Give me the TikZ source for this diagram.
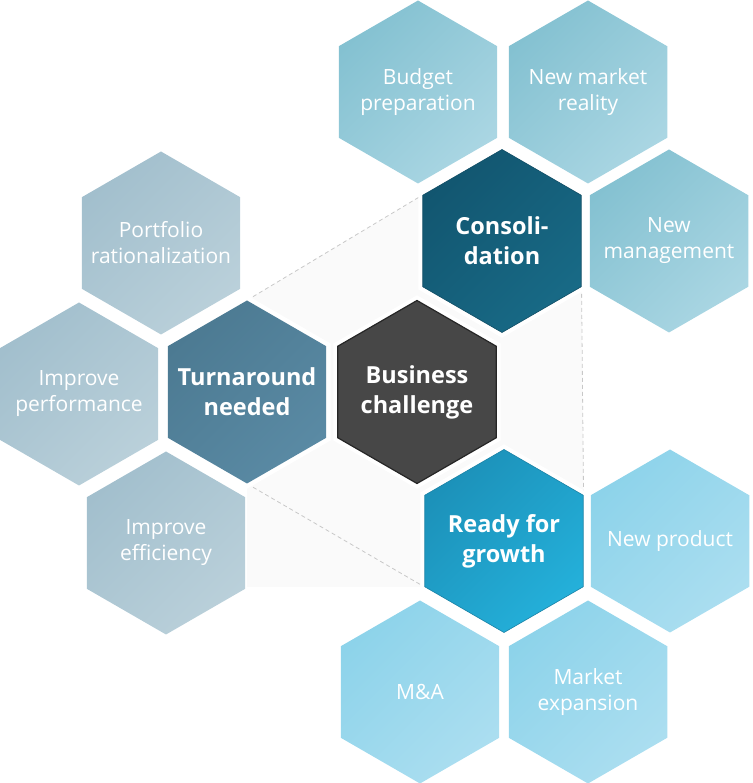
\documentclass[tikz,border=0pt]{standalone}
\usepackage{fontspec}
\setmainfont{Open Sans}
\usepackage{tikz}
\usetikzlibrary{shapes.geometric}
\usetikzlibrary{backgrounds}
\usetikzlibrary{positioning}
\usetikzlibrary{calc}
\definecolor{leftdark}{HTML}{A2BFCD}
\definecolor{leftlight}{HTML}{BAD0DA}
\definecolor{topdark}{HTML}{84C1D1}
\definecolor{toplight}{HTML}{AAD6E3}
\definecolor{botdark}{HTML}{8DD3EA}
\definecolor{botlight}{HTML}{ABDEF0}
\definecolor{turndark}{HTML}{4C7A92}
\definecolor{turnlight}{HTML}{5A8AA4}
\definecolor{consdark}{HTML}{125670}
\definecolor{conslight}{HTML}{186A86}
\definecolor{readydark}{HTML}{1C91B9}
\definecolor{readylight}{HTML}{24B0DA}
\definecolor{bizfill}{HTML}{474747}
\definecolor{dashcol}{HTML}{C8C8C8}
\definecolor{backcol}{HTML}{FAFAFA}
\tikzset{hex/.style={regular polygon, regular polygon sides=6, shape border rotate=30, minimum size=183bp, inner sep=-40bp, align=center, text=white, font=\fontsize{21bp}{26bp}\selectfont},
  hexleft/.style={hex, top color=leftdark, bottom color=leftlight, shading angle=45},
  hextop/.style={hex, top color=topdark, bottom color=toplight, shading angle=45},
  hexbot/.style={hex, top color=botdark, bottom color=botlight, shading angle=45},
  hexmain/.style={hex, preaction={draw=white, line width=9bp}, font=\bfseries\fontsize{23.5bp}{30bp}\selectfont},
  guide/.style={draw=dashcol, dash pattern=on 4bp off 3bp, line width=0.8bp}}

\begin{document}
\begin{tikzpicture}
\useasboundingbox (0,0) rectangle (753bp,783bp);
%%
\node (biz) at (417bp,391bp) [hexmain, fill=bizfill, draw=black!85, line width=1.2bp] {Business\\challenge};
  \node (turn) at (247bp,391bp) [hexmain, top color=turndark, bottom color=turnlight, shading angle=45] {Turnaround\\needed};
  \node (cons) at (502bp,542bp) [hexmain, top color=consdark, bottom color=conslight, shading angle=45, draw=consdark!90!black, line width=0.6bp] {Consoli-\\dation};
  \node (ready) at (504bp,242bp) [hexmain, top color=readydark, bottom color=readylight, shading angle=45, draw=readydark!90!black, line width=0.6bp] {Ready for\\growth};
  \node (port) at (161bp,540bp) [hexleft] {Portfolio\\rationalization};
  \node (perf) at (79bp,389bp) [hexleft] {Improve\\performance};
  \node (effi) at (166bp,240bp) [hexleft] {Improve\\efficiency};
  \node (budget) at (418bp,691bp) [hextop] {Budget\\preparation};
  \node (market) at (588bp,691bp) [hextop] {New market\\reality};
  \node (mgmt) at (669bp,542bp) [hextop] {New\\management};
  \node (product) at (670bp,242bp) [hexbot] {New product};
  \node (manda) at (420bp,91bp) [hexbot] {M\&A};
  \node (expand) at (588bp,91bp) [hexbot] {Market\\expansion};
%
\begin{scope}[on background layer]
  \fill [backcol] (turn.90) -- (cons.150) -- (cons.30) -- (cons.330) -- (ready.30) -- (ready.210 -| ready.30) -- (ready.210 -| turn.270) -- cycle;
  \draw [guide] (turn.90) -- (cons.150);
  \draw [guide] (turn.270) -- (ready.210);
  \draw [guide] (cons.330) -- (ready.30);
\end{scope}
%
\end{tikzpicture}
\end{document}
